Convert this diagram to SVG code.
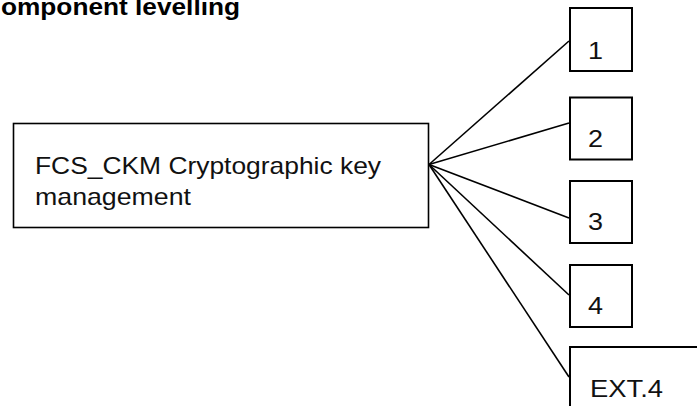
<svg xmlns="http://www.w3.org/2000/svg" width="697" height="406" viewBox="0 0 697 406">
  <style>
    .box { fill: #ffffff; stroke: #000000; stroke-width: 2; }
    .main { stroke-width: 1.6; }
    .lbl { font-family: "Liberation Sans", Arial, sans-serif; font-size: 24px; fill: #111111; }
    .title { font-family: "Liberation Sans", Arial, sans-serif; font-size: 23px; font-weight: bold; fill: #000000; }
    .conn line { stroke: #000000; stroke-width: 1.6; }
  </style>
  <rect width="697" height="406" fill="#ffffff"/>

  <text class="title" x="1" y="15" textLength="239" lengthAdjust="spacingAndGlyphs">omponent levelling</text>

  <!-- connectors fanning out from the family box -->
  <g id="connectors" class="conn">
    <line x1="429" y1="164.5" x2="569" y2="41"/>
    <line x1="429" y1="164.5" x2="569" y2="123"/>
    <line x1="429" y1="164.5" x2="569" y2="218"/>
    <line x1="429" y1="164.5" x2="569" y2="295"/>
    <line x1="429" y1="164.5" x2="569" y2="377"/>
  </g>

  <g id="fcs_ckm">
    <rect class="box main" x="13.5" y="123.5" width="415" height="104"/>
    <text class="lbl" x="35" y="174" textLength="346" lengthAdjust="spacingAndGlyphs">FCS_CKM Cryptographic key</text>
    <text class="lbl" x="35" y="205" textLength="156" lengthAdjust="spacingAndGlyphs">management</text>
  </g>

  <g id="comp1">
    <rect class="box" x="570" y="8" width="62" height="63"/>
    <text class="lbl" x="588" y="59" textLength="15" lengthAdjust="spacingAndGlyphs">1</text>
  </g>
  <g id="comp2">
    <rect class="box" x="570" y="97.5" width="62" height="62"/>
    <text class="lbl" x="588" y="147" textLength="15" lengthAdjust="spacingAndGlyphs">2</text>
  </g>
  <g id="comp3">
    <rect class="box" x="570" y="181" width="62" height="62"/>
    <text class="lbl" x="588" y="230" textLength="15" lengthAdjust="spacingAndGlyphs">3</text>
  </g>
  <g id="comp4">
    <rect class="box" x="570" y="265" width="62" height="62"/>
    <text class="lbl" x="588" y="314" textLength="15" lengthAdjust="spacingAndGlyphs">4</text>
  </g>
  <g id="ext4">
    <rect class="box" x="570" y="347" width="140" height="80"/>
    <text class="lbl" x="590" y="397" textLength="73" lengthAdjust="spacingAndGlyphs">EXT.4</text>
  </g>
</svg>
